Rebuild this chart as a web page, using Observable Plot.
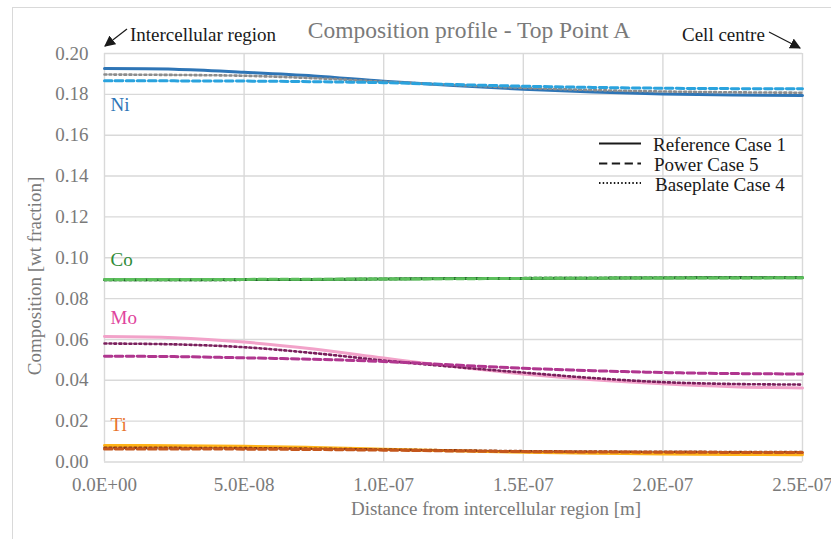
<!DOCTYPE html>
<html>
<head>
<meta charset="utf-8">
<script src="https://cdn.jsdelivr.net/npm/d3@7"></script>
<script src="https://cdn.jsdelivr.net/npm/@observablehq/plot@0.6"></script>
<style>
  html, body { margin: 0; padding: 0; background: #fff; overflow: hidden; }
  #wrap { position: relative; width: 831px; height: 539px; overflow: hidden; font-family: "Liberation Serif", "Times New Roman", serif; }
  #border { position: absolute; left: 12px; top: 7px; width: 900px; height: 600px; border: 1.3px solid #d9d9d9; }
  #chart { position: absolute; left: 0; top: 0; }
  #overlay { position: absolute; left: 0; top: 0; pointer-events: none; }
</style>
</head>
<body>
<div id="wrap">
  <div id="border"></div>
  <div id="chart"></div>
  <svg id="overlay" width="831" height="539" xmlns="http://www.w3.org/2000/svg"></svg>
</div>
<script>
// ---------------- DATA ----------------
const xs = [0, 2.5e-8, 5e-8, 7.5e-8, 1e-7, 1.25e-7, 1.5e-7, 1.75e-7, 2e-7, 2.25e-7, 2.5e-7];

const niRef  = [0.1926, 0.1923, 0.1908, 0.1890, 0.1864, 0.1843, 0.1825, 0.1811, 0.1802, 0.1797, 0.1794];
const niPow  = [0.1866, 0.1866, 0.1865, 0.1862, 0.1857, 0.1848, 0.1840, 0.1834, 0.1830, 0.1828, 0.1827];
const niBase = [0.1897, 0.1895, 0.1891, 0.1879, 0.1862, 0.1846, 0.1832, 0.1821, 0.1814, 0.1810, 0.1808];

const coRef  = [0.0892, 0.0892, 0.0893, 0.0894, 0.0896, 0.0898, 0.0899, 0.0900, 0.0901, 0.0902, 0.0902];
const coPow  = [0.0893, 0.0893, 0.0894, 0.0895, 0.0896, 0.0897, 0.0899, 0.0900, 0.0901, 0.0901, 0.0902];
const coBase = [0.0891, 0.0891, 0.0892, 0.0894, 0.0896, 0.0898, 0.0900, 0.0901, 0.0902, 0.0903, 0.0903];

const moRef  = [0.0614, 0.0608, 0.0587, 0.0553, 0.0509, 0.0467, 0.0431, 0.0403, 0.0383, 0.0369, 0.0362];
const moPow  = [0.0518, 0.0516, 0.0510, 0.0503, 0.0492, 0.0475, 0.0459, 0.0447, 0.0438, 0.0433, 0.0431];
const moBase = [0.0580, 0.0576, 0.0562, 0.0533, 0.0497, 0.0466, 0.0438, 0.0411, 0.0391, 0.0382, 0.0379];

const tiRef  = [0.0081, 0.0080, 0.0077, 0.0071, 0.0063, 0.0055, 0.0048, 0.0043, 0.0039, 0.0037, 0.0036];
const tiPow  = [0.0064, 0.0064, 0.0063, 0.0061, 0.0058, 0.0054, 0.0051, 0.0049, 0.0048, 0.0047, 0.0047];
const tiBase = [0.0070, 0.0069, 0.0068, 0.0065, 0.0061, 0.0057, 0.0053, 0.0051, 0.0050, 0.0049, 0.0049];

const elements = ["Ni", "Co", "Mo", "Ti"];
const cases = ["Reference Case 1", "Power Case 5", "Baseplate Case 4"];
const seriesValues = {
  Ni: [niRef, niPow, niBase],
  Co: [coRef, coPow, coBase],
  Mo: [moRef, moPow, moBase],
  Ti: [tiRef, tiPow, tiBase]
};

const xTickValues = [0, 5e-8, 1e-7, 1.5e-7, 2e-7, 2.5e-7];
const xTickLabels = ["0.0E+00", "5.0E-08", "1.0E-07", "1.5E-07", "2.0E-07", "2.5E-07"];
const yTickValues = [0, 0.02, 0.04, 0.06, 0.08, 0.10, 0.12, 0.14, 0.16, 0.18, 0.20];

const titleText = "Composition profile - Top Point A";
const xLabel = "Distance from intercellular region [m]";
const yLabel = "Composition [wt fraction]";

// ---------------- STYLES ----------------
const colors = {
  Ni: ["#2E75B6", "#2AA3DE", "#8C8C8C"],
  Co: ["#2F8F35", "#5CBF5C", "#1E5A28"],
  Mo: ["#F2A2C9", "#B0368F", "#7A1F5C"],
  Ti: ["#FFB319", "#C4561C", "#8A3812"]
};
const labelColors = { Ni: "#2E75B6", Co: "#2E8B37", Mo: "#E0449C", Ti: "#E8732C" };
const dashes = [null, "7.5,3.5", "2,3"];
const widths = [3, 3, 2.6];
const labelDy = { Ni: 42, Co: -14, Mo: -13, Ti: -14 };
const drawOrder = [0, 2, 1];

// ---------------- TABLE ----------------
const rows = [];
for (const el of elements) {
  seriesValues[el].forEach((vals, ci) => {
    vals.forEach((v, i) => rows.push({ element: el, caseIdx: ci, x: xs[i], y: v }));
  });
}

const lineMarks = [];
for (const el of elements) {
  for (const ci of drawOrder) {
    lineMarks.push(Plot.line(rows.filter(r => r.element === el && r.caseIdx === ci), {
      x: "x", y: "y",
      stroke: colors[el][ci],
      strokeWidth: widths[ci],
      strokeDasharray: dashes[ci] || undefined,
      curve: "catmull-rom"
    }));
  }
}

const labelMarks = elements.map(el => Plot.text(
  rows.filter(r => r.element === el && r.caseIdx === 0 && r.x === xs[0]),
  { x: "x", y: "y", text: () => el, fill: labelColors[el], textAnchor: "start",
    lineAnchor: "bottom", dx: 6, dy: labelDy[el], fontSize: 19 }
));

const chart = Plot.plot({
  width: 831,
  height: 539,
  marginLeft: 104,
  marginRight: 29,
  marginTop: 53,
  marginBottom: 77.5,
  style: { fontFamily: "'Liberation Serif', 'Times New Roman', serif", fontSize: "19px", color: "#7a7a7a", background: "transparent" },
  x: { domain: [0, 2.5e-7] },
  y: { domain: [0, 0.2] },
  marks: [
    Plot.ruleY(yTickValues, { stroke: "#d9d9d9", strokeWidth: 1.4 }),
    Plot.ruleX(xTickValues, { stroke: "#d9d9d9", strokeWidth: 1.4 }),
    Plot.axisY(yTickValues, { tickSize: 0, tickPadding: 16, tickFormat: d3.format(".2f"), label: null, fontSize: 19 }),
    Plot.axisX(xTickValues, { tickSize: 0, tickPadding: 15, tickFormat: d => xTickLabels[xTickValues.indexOf(d)], label: null, fontSize: 19 }),
    ...lineMarks,
    ...labelMarks
  ]
});
document.getElementById("chart").appendChild(chart);

// ---------------- OVERLAY: title, annotations, legend, axis labels ----------------
const ov = d3.select("#overlay").style("font-family", "'Liberation Serif', 'Times New Roman', serif");
const defs = ov.append("defs");
defs.append("marker").attr("id", "ah").attr("viewBox", "0 0 10 10").attr("refX", 9).attr("refY", 5)
  .attr("markerWidth", 11).attr("markerHeight", 11).attr("markerUnits", "userSpaceOnUse").attr("orient", "auto")
  .append("path").attr("d", "M0,0 L10,5 L0,10 z").attr("fill", "#1a1a1a");

ov.append("text").attr("x", 469).attr("y", 38).attr("text-anchor", "middle")
  .attr("font-size", 23.5).attr("fill", "#7a7a7a").text(titleText);

ov.append("text").attr("x", 130).attr("y", 41).attr("font-size", 19).attr("fill", "#1a1a1a").text("Intercellular region");
ov.append("line").attr("x1", 127).attr("y1", 29).attr("x2", 105).attr("y2", 46)
  .attr("stroke", "#1a1a1a").attr("stroke-width", 1.2).attr("marker-end", "url(#ah)");

ov.append("text").attr("x", 682).attr("y", 41).attr("font-size", 19).attr("fill", "#1a1a1a").text("Cell centre");
ov.append("line").attr("x1", 769).attr("y1", 32).attr("x2", 800).attr("y2", 48)
  .attr("stroke", "#1a1a1a").attr("stroke-width", 1.2).attr("marker-end", "url(#ah)");

ov.append("text").attr("x", 496).attr("y", 515).attr("text-anchor", "middle")
  .attr("font-size", 19).attr("fill", "#7a7a7a").text(xLabel);
ov.append("text").attr("transform", "translate(41,276) rotate(-90)").attr("text-anchor", "middle")
  .attr("font-size", 19).attr("fill", "#7a7a7a").text(yLabel);

const legY = [143.5, 163.5, 183];
const legTextX = [653, 654, 655];
cases.forEach((c, i) => {
  ov.append("line").attr("x1", 599).attr("x2", 641).attr("y1", legY[i]).attr("y2", legY[i])
    .attr("stroke", "#1a1a1a").attr("stroke-width", 2)
    .attr("stroke-dasharray", i === 1 ? "8.3,4.5" : i === 2 ? "1.5,2.2" : null);
  ov.append("text").attr("x", legTextX[i]).attr("y", legY[i] + 7.5)
    .attr("font-size", 19).attr("fill", "#1a1a1a").text(c);
});
</script>
</body>
</html>
